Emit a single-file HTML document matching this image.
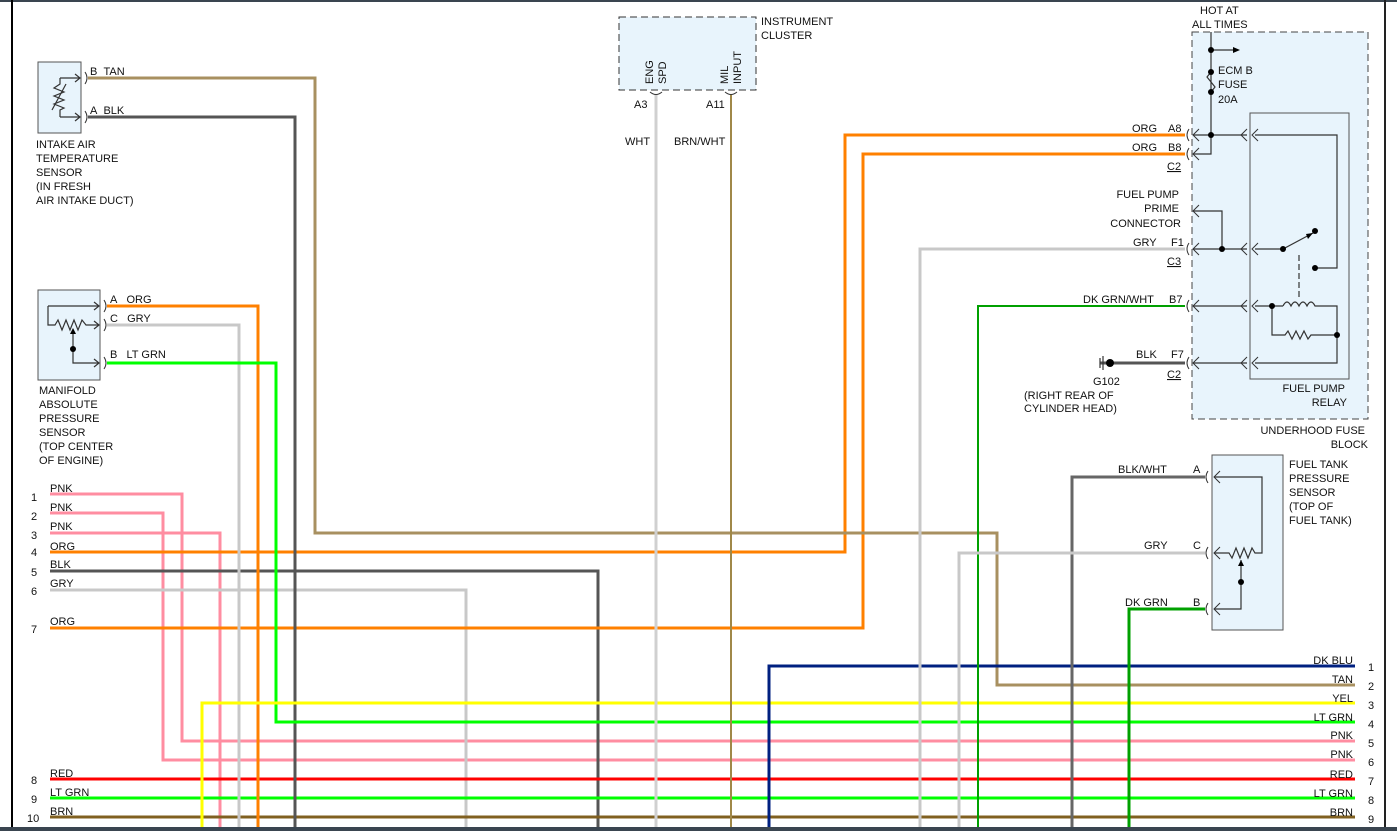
<!DOCTYPE html>
<html><head><meta charset="utf-8"><style>
html,body{margin:0;padding:0;background:#fff;}
svg{display:block;}
text{font-family:"Liberation Sans",Arial,sans-serif;font-size:11px;fill:#111;}
</style></head><body>
<svg width="1397" height="831" viewBox="0 0 1397 831" xmlns="http://www.w3.org/2000/svg">
<rect x="0" y="0" width="1397" height="831" fill="#fff"/>
<rect x="0" y="0" width="1397" height="2" fill="#3a4550"/>
<rect x="0" y="827" width="1397" height="4" fill="#3a4550"/>
<line x1="12" y1="0" x2="12" y2="827" stroke="#000" stroke-width="2"/>
<line x1="1385" y1="0" x2="1385" y2="827" stroke="#222" stroke-width="2"/>

<rect x="38" y="62" width="43" height="71" fill="#e8f4fc" stroke="#555"/>
<rect x="38" y="290" width="62" height="90" fill="#e8f4fc" stroke="#555"/>
<rect x="619" y="17" width="137" height="73" fill="#e8f4fc" stroke="#333" stroke-dasharray="7,4"/>
<rect x="1192" y="32" width="176" height="387" fill="#e8f4fc" stroke="#444" stroke-dasharray="7,4"/>
<rect x="1250" y="113" width="99" height="266" fill="#e8f4fc" stroke="#555"/>
<rect x="1212" y="455" width="71" height="175" fill="#e8f4fc" stroke="#555"/>

<g fill="none" stroke-width="3">
<polyline points="50,494 182,494 182,741 1355,741" stroke="#ff8da1"/>
<polyline points="50,513 163,513 163,760 1355,760" stroke="#ff8da1"/>
<polyline points="50,533 220,533 220,827" stroke="#ff8da1"/>
<polyline points="50,552 845,552 845,135 1185,135" stroke="#ff8000"/>
<polyline points="50,571 598,571 598,827" stroke="#555"/>
<polyline points="50,590 466,590 466,827" stroke="#c8c8c8"/>
<polyline points="50,628 863,628 863,154 1185,154" stroke="#ff8000"/>
<line x1="50" y1="779" x2="1355" y2="779" stroke="#ff0000"/>
<line x1="50" y1="798" x2="1355" y2="798" stroke="#00ff00"/>
<line x1="50" y1="817" x2="1355" y2="817" stroke="#806020"/>
<polyline points="88,78 315,78 315,533 997,533 997,685 1355,685" stroke="#a89060"/>
<polyline points="88,117 295,117 295,827" stroke="#555"/>
<polyline points="107,306 258,306 258,827" stroke="#ff8000"/>
<polyline points="107,325 239,325 239,827" stroke="#c8c8c8"/>
<polyline points="107,363 276,363 276,722 1355,722" stroke="#00ff00"/>
<polyline points="1355,703 202,703 202,827" stroke="#ffff00"/>
<polyline points="1355,666 769,666 769,827" stroke="#002080"/>
<line x1="656" y1="95" x2="656" y2="827" stroke="#d0d0d0"/>
<line x1="731" y1="95" x2="731" y2="827" stroke="#a08848" stroke-width="2"/>
<polyline points="1185,249 920,249 920,827" stroke="#c8c8c8"/>
<polyline points="1185,306 978,306 978,827" stroke="#00a000" stroke-width="2"/>
<line x1="1100" y1="363" x2="1185" y2="363" stroke="#555"/>
<polyline points="1205,477 1072,477 1072,827" stroke="#666"/>
<polyline points="1205,553 959,553 959,827" stroke="#c8c8c8"/>
<polyline points="1205,609 1129,609 1129,827" stroke="#00a000"/>
</g>

<g fill="none" stroke="#333" stroke-width="1">
<path d="M85,72 q4,6 0,12"/><path d="M85,111 q4,6 0,12"/>
<path d="M104,300 q4,6 0,12"/><path d="M104,319 q4,6 0,12"/><path d="M104,357 q4,6 0,12"/>
<path d="M650,92 q6,5 12,0"/><path d="M725,92 q6,5 12,0"/>
<path d="M1189,129 q-4,6 0,12"/><path d="M1189,148 q-4,6 0,12"/><path d="M1189,243 q-4,6 0,12"/><path d="M1189,300 q-4,6 0,12"/><path d="M1189,357 q-4,6 0,12"/>
<path d="M1208,471 q-4,6 0,12"/><path d="M1208,547 q-4,6 0,12"/><path d="M1208,603 q-4,6 0,12"/>
</g>
<g fill="none" stroke="#333" stroke-width="1.2">
<polyline points="60,78 80,78"/><polyline points="75,74 80,78 75,82"/>
<polyline points="60,117 80,117"/><polyline points="75,113 80,117 75,121"/>
<polyline points="60,78 60,84 54,88 64,92 54,96 64,100 54,104 64,108 60,110 60,117"/>
<line x1="52" y1="110" x2="66" y2="84"/>
<polyline points="48,306 48,325 55,325 58,320 62,330 66,320 70,330 74,320 78,330 82,320 86,325 99,325"/>
<polyline points="48,306 99,306"/>
<polyline points="94,302 99,306 94,310"/><polyline points="94,321 99,325 94,329"/>
<polyline points="73,330 73,363 99,363"/><polyline points="94,359 99,363 94,367"/>
<polyline points="1211,32 1211,154 1193,154"/>
<line x1="1211" y1="50" x2="1233" y2="50"/>
<polyline points="1211,72 1207,77 1211,82 1215,87 1211,92"/>
<line x1="1193" y1="135" x2="1247" y2="135"/>
<polyline points="1255,135 1337,135 1337,268 1315,268"/>
<polyline points="1193,211 1222,211 1222,249"/>
<line x1="1193" y1="249" x2="1247" y2="249"/>
<polyline points="1255,249 1283,249 1313,233"/>
<line x1="1299" y1="255" x2="1299" y2="300" stroke-dasharray="6,3"/>
<line x1="1193" y1="306" x2="1247" y2="306"/>
<polyline points="1255,306 1283,306"/>
<path d="M1283,306 q4,-8 8,0 q4,-8 8,0 q4,-8 8,0 q4,-8 8,0 L1337,306 L1337,363 L1255,363"/>
<polyline points="1272,306 1272,335 1285,335 1288,331 1292,339 1296,331 1300,339 1304,331 1308,339 1311,335 1337,335"/>
<line x1="1193" y1="363" x2="1247" y2="363"/>
<polyline points="1214,477 1262,477 1262,553 1255,553 1252,548 1248,558 1244,548 1240,558 1236,548 1232,558 1229,553 1214,553"/>
<polyline points="1241,560 1241,609 1214,609"/>
</g>
<g fill="none" stroke="#333" stroke-width="1">
<polyline points="1199,129 1193,135 1199,141"/><polyline points="1199,148 1193,154 1199,160"/>
<polyline points="1199,205 1193,211 1199,217"/><polyline points="1199,243 1193,249 1199,255"/>
<polyline points="1199,300 1193,306 1199,312"/><polyline points="1199,357 1193,363 1199,369"/>
<polyline points="1247,129 1241,135 1247,141"/><polyline points="1258,129 1252,135 1258,141"/>
<polyline points="1247,243 1241,249 1247,255"/><polyline points="1258,243 1252,249 1258,255"/>
<polyline points="1247,300 1241,306 1247,312"/><polyline points="1258,300 1252,306 1258,312"/>
<polyline points="1247,357 1241,363 1247,369"/><polyline points="1258,357 1252,363 1258,369"/>
<polyline points="1220,471 1214,477 1220,483"/><polyline points="1220,547 1214,553 1220,559"/><polyline points="1220,603 1214,609 1220,615"/>
</g>
<g fill="#000">
<circle cx="1211" cy="50" r="3"/><circle cx="1211" cy="72" r="3"/><circle cx="1211" cy="92" r="3"/>
<circle cx="1211" cy="135" r="3"/><circle cx="1222" cy="249" r="3"/>
<circle cx="1283" cy="249" r="3"/><circle cx="1315" cy="231" r="3"/><circle cx="1315" cy="268" r="3"/>
<circle cx="1272" cy="306" r="3"/><circle cx="1337" cy="335" r="3"/>
<circle cx="73" cy="349" r="3"/><circle cx="1241" cy="582" r="3"/>
<polygon points="1233,47 1240,50 1233,53"/>
<polygon points="70,334 73,328 76,334"/><polygon points="1238,566 1241,560 1244,566"/>
<polygon points="1306,234 1313,233 1308,239"/>
<circle cx="1110" cy="363" r="4"/>
</g>
<g stroke="#333" stroke-width="1.2"><line x1="1100" y1="358" x2="1100" y2="368"/><line x1="1103" y1="356" x2="1103" y2="370"/></g>

<text x="90" y="75">B&#160;&#160;TAN</text>
<text x="90" y="114">A&#160;&#160;BLK</text>
<text x="36" y="148">INTAKE AIR</text><text x="36" y="162">TEMPERATURE</text><text x="36" y="176">SENSOR</text><text x="36" y="190">(IN FRESH</text><text x="36" y="204">AIR INTAKE DUCT)</text>
<text x="110" y="303">A&#160;&#160;&#160;ORG</text><text x="110" y="322">C&#160;&#160;&#160;GRY</text><text x="110" y="358">B&#160;&#160;&#160;LT GRN</text>
<text x="39" y="394">MANIFOLD</text><text x="39" y="408">ABSOLUTE</text><text x="39" y="422">PRESSURE</text><text x="39" y="436">SENSOR</text><text x="39" y="450">(TOP CENTER</text><text x="39" y="464">OF ENGINE)</text>
<text x="50" y="492">PNK</text><text x="50" y="511">PNK</text><text x="50" y="530">PNK</text><text x="50" y="550">ORG</text><text x="50" y="568">BLK</text><text x="50" y="587">GRY</text><text x="50" y="625">ORG</text><text x="50" y="777">RED</text><text x="50" y="796">LT GRN</text><text x="50" y="815">BRN</text>
<text x="31" y="501">1</text><text x="31" y="520">2</text><text x="31" y="539">3</text><text x="31" y="556">4</text><text x="31" y="576">5</text><text x="31" y="595">6</text><text x="31" y="633">7</text><text x="31" y="784">8</text><text x="31" y="803">9</text><text x="27" y="822">10</text>
<text x="761" y="25">INSTRUMENT</text><text x="761" y="39">CLUSTER</text>
<text transform="translate(653,84) rotate(-90)">ENG</text><text transform="translate(666,84) rotate(-90)">SPD</text>
<text transform="translate(728,84) rotate(-90)">MIL</text><text transform="translate(741,84) rotate(-90)">INPUT</text>
<text x="634" y="108">A3</text><text x="706" y="108">A11</text>
<text x="625" y="145">WHT</text><text x="674" y="145">BRN/WHT</text>
<text x="1200" y="14">HOT AT</text><text x="1192" y="28">ALL TIMES</text>
<text x="1218" y="74">ECM B</text><text x="1218" y="88">FUSE</text><text x="1218" y="103">20A</text>
<text x="1132" y="132">ORG</text><text x="1168" y="132">A8</text>
<text x="1132" y="151">ORG</text><text x="1168" y="151">B8</text>
<text x="1167" y="170" text-decoration="underline">C2</text>
<text x="1179" y="198" text-anchor="end">FUEL PUMP</text><text x="1179" y="212" text-anchor="end">PRIME</text><text x="1181" y="227" text-anchor="end">CONNECTOR</text>
<text x="1133" y="246">GRY</text><text x="1171" y="246">F1</text>
<text x="1167" y="265" text-decoration="underline">C3</text>
<text x="1083" y="303">DK GRN/WHT</text><text x="1169" y="303">B7</text>
<text x="1136" y="358">BLK</text><text x="1171" y="358">F7</text>
<text x="1167" y="378" text-decoration="underline">C2</text>
<text x="1093" y="385">G102</text><text x="1024" y="399">(RIGHT REAR OF</text><text x="1024" y="412">CYLINDER HEAD)</text>
<text x="1345" y="392" text-anchor="end">FUEL PUMP</text><text x="1347" y="406" text-anchor="end">RELAY</text>
<text x="1365" y="434" text-anchor="end">UNDERHOOD FUSE</text><text x="1368" y="448" text-anchor="end">BLOCK</text>
<text x="1118" y="473">BLK/WHT</text><text x="1193" y="473">A</text>
<text x="1144" y="549">GRY</text><text x="1193" y="549">C</text>
<text x="1125" y="606">DK GRN</text><text x="1193" y="606">B</text>
<text x="1289" y="468">FUEL TANK</text><text x="1289" y="482">PRESSURE</text><text x="1289" y="496">SENSOR</text><text x="1289" y="510">(TOP OF</text><text x="1289" y="524">FUEL TANK)</text>
<g text-anchor="end">
<text x="1353" y="664">DK BLU</text><text x="1353" y="683">TAN</text><text x="1353" y="702">YEL</text><text x="1353" y="721">LT GRN</text><text x="1353" y="739">PNK</text><text x="1353" y="758">PNK</text><text x="1353" y="778">RED</text><text x="1353" y="797">LT GRN</text><text x="1353" y="816">BRN</text>
</g>
<text x="1368" y="671">1</text><text x="1368" y="690">2</text><text x="1368" y="709">3</text><text x="1368" y="728">4</text><text x="1368" y="747">5</text><text x="1368" y="766">6</text><text x="1368" y="785">7</text><text x="1368" y="804">8</text><text x="1368" y="823">9</text>
</svg>
</body></html>
